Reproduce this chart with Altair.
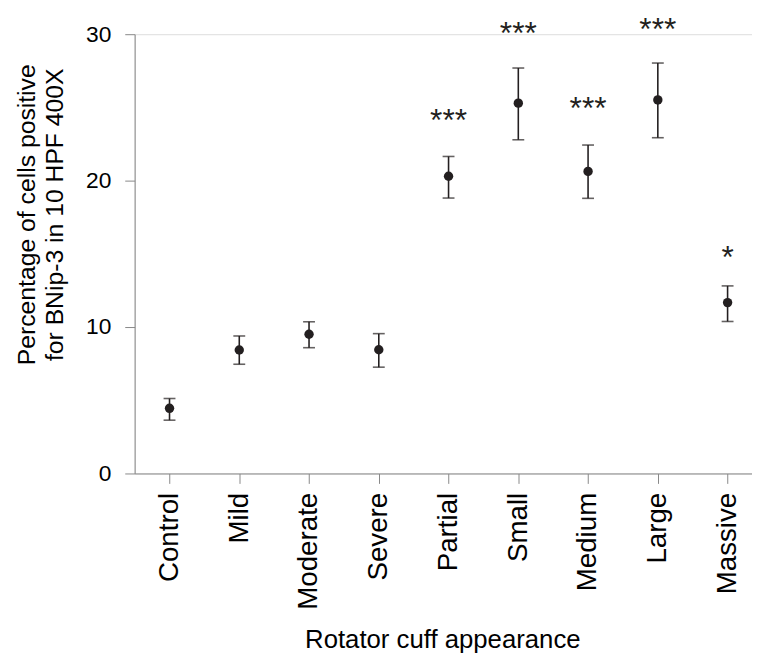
import json
import altair as alt
import pandas as pd

categories = ["Control", "Mild", "Moderate", "Severe", "Partial", "Small", "Medium", "Large", "Massive"]
means = [4.45, 8.43, 9.51, 8.45, 20.3, 25.29, 20.63, 25.51, 11.67]
upper = [5.12, 9.39, 10.36, 9.55, 21.65, 27.69, 22.43, 28.03, 12.81]
lower = [3.64, 7.46, 8.59, 7.26, 18.81, 22.79, 18.79, 22.93, 10.38]
stars = ["", "", "", "", "***", "***", "***", "***", "*"]
star_y = [0, 0, 0, 0, 24.6, 30.55, 25.4, 30.8, 15.27]
y_ticks = [0, 10, 20, 30]

df = pd.DataFrame({
    "idx": list(range(len(categories))),
    "cat": categories,
    "mean": means,
    "upper": upper,
    "lower": lower,
    "star": stars,
    "star_y": star_y,
})

INK = "#231f20"
AXIS = "#3a3a3a"
FONT = "Liberation Sans"

label_expr = "[" + ",".join(json.dumps(c) for c in categories) + "][datum.value]"

xscale = alt.Scale(domain=[-0.5, 8.35], nice=False, zero=False)
yscale = alt.Scale(domain=[0, 30], nice=False, zero=True)

x_axis = alt.Axis(
    values=list(range(len(categories))), labelExpr=label_expr,
    labelAngle=270, labelAlign="right", labelBaseline="middle",
    labelFontSize=28, labelPadding=9, tickSize=10,
    title="Rotator cuff appearance", titleFontSize=26, titleFontWeight="normal",
    titleX=311, titleY=176, titleBaseline="alphabetic", titleAlign="center",
    grid=False,
)
y_axis = alt.Axis(
    values=y_ticks, labelFontSize=23, labelPadding=14, tickSize=10,
    title=["Percentage of cells positive", "for BNip-3 in 10 HPF 400X"],
    titleFontSize=25, titleFontWeight="normal", titleAngle=270,
    titleX=-109, titleY=182, titleAlign="center", titleBaseline="middle",
    titleLineHeight=28, grid=False,
)


def X():
    return alt.X("idx:Q", scale=xscale, axis=x_axis)


def Y(field):
    return alt.Y(f"{field}:Q", scale=yscale, axis=y_axis)


base = alt.Chart(df)

bars = base.mark_rule(color=INK, strokeWidth=1.6).encode(x=X(), y=Y("lower"), y2="upper:Q")
cap_hi = base.mark_tick(color=INK, orient="horizontal", size=12, thickness=1.6).encode(x=X(), y=Y("upper"))
cap_lo = base.mark_tick(color=INK, orient="horizontal", size=12, thickness=1.6).encode(x=X(), y=Y("lower"))
points = base.mark_circle(color=INK, size=90, opacity=1).encode(x=X(), y=Y("mean"))
star_text = base.transform_filter("datum.star != ''").mark_text(
    color=INK, fontSize=32, font=FONT, baseline="alphabetic", align="center", dy=18
).encode(x=X(), y=Y("star_y"), text="star:N")

chart = alt.layer(bars, cap_hi, cap_lo, points, star_text).properties(
    width=624, height=444,
    autosize=alt.AutoSizeParams(type="none"),
    padding={"left": 128, "top": 23, "right": 0, "bottom": 180},
).configure_view(stroke=None).configure_axis(
    domainColor=AXIS, domainWidth=1.5, tickColor=AXIS, tickWidth=1.5,
    labelColor=INK, titleColor=INK, labelFont=FONT, titleFont=FONT,
).configure(font=FONT)

chart.save("out.html", embed_options={"renderer": "svg", "actions": False})
